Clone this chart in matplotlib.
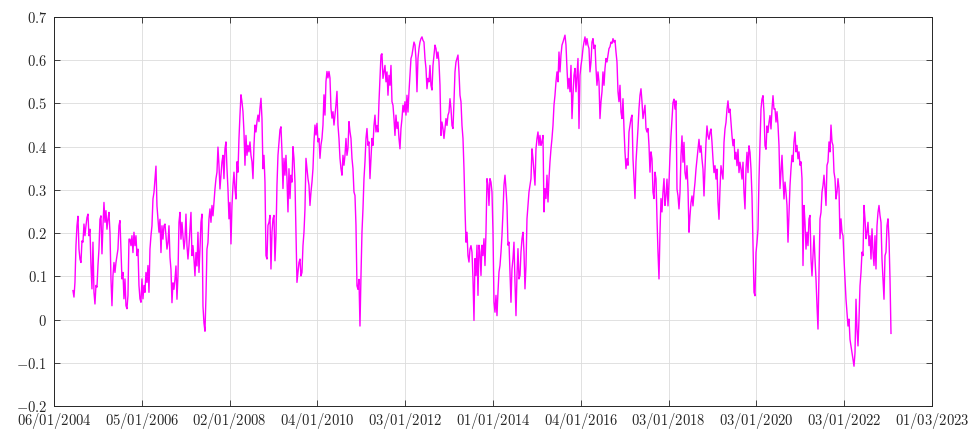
import numpy as np
import matplotlib
matplotlib.use("Agg")
import matplotlib.pyplot as plt

plt.rcParams["mathtext.fontset"] = "cm"
plt.rcParams["font.family"] = "serif"
plt.rcParams["font.serif"] = ["cmr10", "DejaVu Serif"]

# Rolling correlation, one reading every ~5.7 trading days
obs_start = 108
obs_step = 5.695
corr = [
    0.067, 0.052, 0.086, 0.171, 0.217, 0.239, 0.163, 0.140, 0.132, 0.182,
    0.179, 0.221, 0.194, 0.217, 0.236, 0.244, 0.194, 0.209,
    0.125, 0.071, 0.179, 0.063, 0.036, 0.079, 0.075, 0.125,
    0.163, 0.232, 0.240, 0.152, 0.217, 0.271, 0.225, 0.252, 0.209, 0.232,
    0.248, 0.202, 0.094, 0.032, 0.102, 0.132, 0.109, 0.132, 0.148, 0.163,
    0.217, 0.229, 0.163, 0.094, 0.109, 0.048, 0.094, 0.032, 0.025, 0.056,
    0.186, 0.186, 0.171, 0.194, 0.155, 0.202, 0.171, 0.194, 0.148, 0.163,
    0.079, 0.048, 0.040, 0.094, 0.048, 0.079, 0.063, 0.109, 0.086, 0.125,
    0.063, 0.163, 0.194, 0.217, 0.279, 0.294, 0.325, 0.355, 0.263, 0.232,
    0.202, 0.232, 0.155, 0.217, 0.186, 0.217,
    # 2006-2008
    0.221, 0.194, 0.163, 0.178, 0.217, 0.144, 0.116, 0.039, 0.085, 0.070,
    0.093, 0.124, 0.047, 0.101, 0.225, 0.248, 0.186, 0.225, 0.194, 0.163,
    0.186, 0.244, 0.171, 0.140, 0.171, 0.210, 0.248, 0.148, 0.171, 0.140,
    0.101, 0.155, 0.124, 0.202, 0.109, 0.163, 0.225, 0.244, 0.031, -0.008,
    -0.027, 0.054, 0.163, 0.178, 0.233, 0.256, 0.225, 0.264, 0.240, 0.271,
    0.302, 0.326, 0.341, 0.399, 0.357, 0.302, 0.334, 0.365, 0.380, 0.326,
    0.395, 0.411, 0.349, 0.302, 0.233, 0.271, 0.175, 0.264, 0.310, 0.341,
    0.302, 0.279, 0.365, 0.341, 0.419, 0.473, 0.520, 0.504, 0.481, 0.434,
    0.357, 0.426, 0.380, 0.403, 0.388, 0.411, 0.380, 0.365, 0.326, 0.403,
    0.450, 0.434, 0.458, 0.473, 0.458, 0.489, 0.512, 0.465, 0.349, 0.380,
    0.318, 0.148,
    # 2009-2011
    0.140, 0.218, 0.225, 0.241, 0.117, 0.202, 0.233, 0.241, 0.136, 0.194,
    0.311, 0.380, 0.411, 0.439, 0.446, 0.388, 0.303, 0.373, 0.334, 0.380,
    0.326, 0.249, 0.349, 0.280, 0.334, 0.318, 0.400, 0.373, 0.318, 0.202,
    0.086, 0.109, 0.132, 0.140, 0.101, 0.109, 0.171, 0.202, 0.256, 0.373,
    0.349, 0.326, 0.311, 0.264, 0.295, 0.318, 0.349, 0.411, 0.450, 0.427,
    0.454, 0.411, 0.419, 0.373, 0.404, 0.419, 0.450, 0.520, 0.473, 0.551,
    0.574, 0.559, 0.574, 0.559, 0.489, 0.466, 0.481, 0.450, 0.473, 0.497,
    0.528, 0.450, 0.419, 0.373, 0.349, 0.334, 0.380, 0.357, 0.380, 0.419,
    0.380, 0.396, 0.458, 0.435, 0.419, 0.373, 0.349, 0.295, 0.287, 0.218,
    0.078, 0.070, 0.093, -0.015, 0.101, 0.202, 0.256, 0.326, 0.365,
    # 2011-2013
    0.419, 0.442, 0.403, 0.411, 0.326, 0.372, 0.419, 0.403, 0.449, 0.473,
    0.434, 0.449, 0.434, 0.504, 0.558, 0.612, 0.615, 0.558, 0.573, 0.588,
    0.550, 0.573, 0.519, 0.565, 0.542, 0.588, 0.504, 0.496, 0.465, 0.426,
    0.473, 0.442, 0.457, 0.419, 0.395, 0.442, 0.465, 0.496, 0.480, 0.504,
    0.473, 0.519, 0.480, 0.527, 0.565, 0.604, 0.612, 0.627, 0.642, 0.635,
    0.604, 0.527, 0.604, 0.627, 0.642, 0.650, 0.654, 0.646, 0.642, 0.604,
    0.581, 0.534, 0.558, 0.550, 0.588, 0.542, 0.531, 0.588, 0.612, 0.635,
    0.627, 0.604, 0.619, 0.596, 0.542, 0.426, 0.457, 0.442, 0.419, 0.442,
    0.465, 0.449, 0.473, 0.480, 0.511, 0.488, 0.449, 0.442, 0.504, 0.573,
    0.596, 0.604, 0.612, 0.573, 0.519, 0.504, 0.449, 0.419, 0.349, 0.257,
    0.179, 0.202, 0.148, 0.133, 0.163, 0.171, 0.156, 0.094,
    -0.002,
    # 2014-2015
    0.141, 0.102, 0.172, 0.056, 0.172, 0.156, 0.102, 0.172, 0.148, 0.187,
    0.125, 0.202, 0.326, 0.311, 0.264, 0.326, 0.318, 0.295, 0.202, 0.040,
    0.017, 0.056, 0.009, 0.064, 0.110, 0.125, 0.156, 0.195, 0.249, 0.311,
    0.334, 0.303, 0.264, 0.172, 0.179, 0.110, 0.040, 0.117, 0.141, 0.179,
    0.087, 0.009, 0.102, 0.164, 0.094, 0.102, 0.156, 0.187, 0.202, 0.156,
    0.071, 0.125, 0.233, 0.264, 0.295, 0.311, 0.326, 0.395, 0.372, 0.341,
    0.311, 0.395, 0.419, 0.434, 0.403, 0.426, 0.403, 0.411, 0.426, 0.249,
    0.303, 0.280, 0.334, 0.272, 0.326, 0.365, 0.395, 0.419, 0.449, 0.496,
    0.519, 0.550, 0.573, 0.550, 0.619,
    # 2016-2017
    0.573, 0.612, 0.635, 0.642, 0.650, 0.658, 0.635, 0.581, 0.534, 0.558,
    0.527, 0.588, 0.465, 0.519, 0.565, 0.581, 0.527, 0.565, 0.604, 0.442,
    0.565, 0.588, 0.604, 0.627, 0.642, 0.654, 0.635, 0.650, 0.635, 0.627,
    0.573, 0.596, 0.642, 0.650, 0.627, 0.635, 0.581, 0.542, 0.573, 0.550,
    0.465, 0.504, 0.527, 0.573, 0.542, 0.581, 0.604, 0.596, 0.612, 0.627,
    0.631, 0.642, 0.639, 0.650, 0.642, 0.646, 0.619, 0.596, 0.527, 0.504,
    0.542, 0.480, 0.465, 0.511, 0.442, 0.388, 0.349, 0.372, 0.357, 0.434,
    0.449, 0.465, 0.473, 0.372, 0.326, 0.280, 0.365, 0.403, 0.442, 0.488,
    0.519, 0.534, 0.504, 0.465, 0.480, 0.496, 0.442, 0.434, 0.442, 0.403,
    0.341, 0.388, 0.372, 0.295, 0.280, 0.341, 0.326, 0.233, 0.156, 0.094,
    0.202, 0.280, 0.249, 0.295, 0.326, 0.264,
    # 2018-2020
    0.286, 0.325, 0.263, 0.317, 0.379, 0.425, 0.464, 0.502, 0.510, 0.487,
    0.506, 0.302, 0.286, 0.256, 0.294, 0.379, 0.425, 0.364, 0.410, 0.340,
    0.325, 0.356, 0.302, 0.202, 0.240, 0.271, 0.286, 0.263, 0.294, 0.317,
    0.348, 0.371, 0.394, 0.417, 0.387, 0.402, 0.371, 0.348, 0.286, 0.348,
    0.410, 0.448, 0.425, 0.417, 0.433, 0.441, 0.410, 0.371, 0.340, 0.356,
    0.325, 0.348, 0.271, 0.232, 0.302, 0.356, 0.340, 0.325, 0.410, 0.441,
    0.456, 0.487, 0.506, 0.479, 0.487, 0.456, 0.425, 0.402, 0.417, 0.371,
    0.387, 0.356, 0.394, 0.340, 0.364, 0.348, 0.325, 0.364, 0.294, 0.256,
    0.348, 0.387, 0.340, 0.402, 0.387, 0.348, 0.286, 0.178, 0.063, 0.055,
    0.155, 0.178, 0.209, 0.325, 0.410, 0.487, 0.510, 0.518, 0.479, 0.402,
    0.394, 0.448, 0.433, 0.456, 0.472, 0.441, 0.487, 0.518, 0.487,
    # 2020-2023
    0.488, 0.457, 0.481, 0.450, 0.403, 0.303, 0.341, 0.380, 0.326, 0.279,
    0.318, 0.295, 0.264, 0.179, 0.248, 0.310, 0.349, 0.380, 0.365, 0.411,
    0.434, 0.388, 0.403, 0.372, 0.388, 0.357, 0.365, 0.326, 0.125, 0.264,
    0.225, 0.163, 0.202, 0.171, 0.233, 0.241, 0.140, 0.101, 0.148, 0.194,
    0.140, 0.094, 0.032, -0.022, 0.101, 0.233, 0.248, 0.295, 0.310, 0.334,
    0.303, 0.264, 0.357, 0.365, 0.411, 0.388, 0.450, 0.411, 0.403, 0.341,
    0.326, 0.279, 0.295, 0.326, 0.303, 0.187, 0.233, 0.202, 0.194, 0.140,
    0.094, 0.047, 0.016, -0.015, 0.001, -0.046, -0.061, -0.077, -0.092, -0.108,
    -0.077, 0.047, -0.022, -0.061, 0.001, 0.078, 0.109, 0.156, 0.148, 0.264,
    0.233, 0.187, 0.202, 0.225, 0.171, 0.194, 0.140, 0.210, 0.156, 0.125,
    0.194, 0.117, 0.217, 0.248, 0.264, 0.241, 0.225, 0.140, 0.094, 0.047,
    0.148, 0.156, 0.217, 0.233, 0.187, 0.094, -0.032,
]

tick_obs = [0, 500, 1000, 1500, 2000, 2500, 3000, 3500, 4000, 4500, 5000]
tick_dates = ["06/01/2004", "05/01/2006", "02/01/2008", "04/01/2010",
              "03/01/2012", "01/01/2014", "04/01/2016", "03/01/2018",
              "03/01/2020", "03/01/2022", "01/03/2023"]
y_ticks = [-0.2, -0.1, 0, 0.1, 0.2, 0.3, 0.4, 0.5, 0.6, 0.7]

obs = obs_start + obs_step * np.arange(len(corr))

fig = plt.figure(figsize=(9.79, 4.32), dpi=100)
ax = fig.add_axes([54 / 979, 1 - 406 / 432, (932 - 54) / 979, (406 - 17) / 432])

ax.plot(obs, corr, color="#ff00ff", lw=1.0)

ax.set_xlim(tick_obs[0], tick_obs[-1])
ax.set_ylim(y_ticks[0], y_ticks[-1])
ax.set_xticks(tick_obs)
ax.set_xticklabels([f"${d}$" for d in tick_dates])
ax.set_yticks(y_ticks)
ax.set_yticklabels([f"${v:g}$" for v in y_ticks])

ax.grid(True, color="#dcdcdc", lw=0.6)
ax.set_axisbelow(True)
for s in ax.spines.values():
    s.set_color("#262626")
    s.set_linewidth(0.7)
ax.tick_params(direction="in", length=4, width=0.6, color="#262626",
               top=True, right=True, labelsize=10.5, labelcolor="#262626")
ax.tick_params(axis="x", pad=3.5)
ax.tick_params(axis="y", pad=5)

fig.savefig("out.png", dpi=100)
